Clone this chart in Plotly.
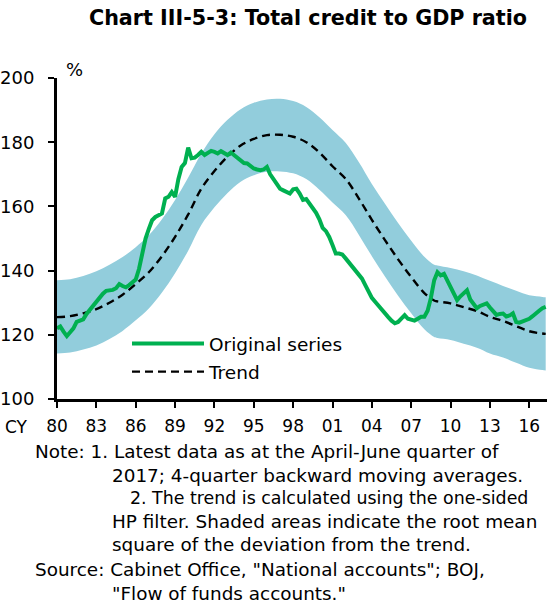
import plotly.graph_objects as go

# ---------------- data ----------------
# Original series: quarterly, 1980Q1 .. 2017Q2 (%)
original_series = [
    122.0, 122.6, 121.0, 119.6,   # 1980
    120.8, 122.0, 124.0, 124.3,   # 1981
    124.8, 126.5, 127.8, 129.0,   # 1982
    130.5, 131.8, 132.8, 133.7,   # 1983
    133.8, 134.0, 134.5, 135.8,   # 1984
    135.2, 134.8, 135.5, 136.2,   # 1985
    137.2, 140.5, 146.0, 150.0,   # 1986
    153.0, 155.7, 156.7, 157.3,   # 1987
    157.8, 162.5, 163.0, 164.5,   # 1988
    163.0, 168.5, 172.3, 173.5,   # 1989
    178.3, 175.0, 175.2, 176.0,   # 1990
    177.0, 176.0, 176.5, 177.3,   # 1991
    177.0, 176.5, 177.2, 176.5,   # 1992
    176.0, 176.8, 176.0, 175.0,   # 1993
    174.4, 173.5, 173.4, 172.5,   # 1994
    171.8, 171.5, 171.3, 171.5,   # 1995
    172.3, 170.0, 168.5, 167.0,   # 1996
    165.5, 165.0, 164.5, 164.0,   # 1997
    165.3, 165.5, 164.0, 162.0,   # 1998
    162.3, 161.0, 159.5, 158.0,   # 1999
    156.0, 153.3, 152.3, 150.5,   # 2000
    148.0, 145.3, 145.3, 145.0,   # 2001
    143.8, 142.5, 141.0, 139.6,   # 2002
    138.5, 137.5, 135.5, 133.5,   # 2003
    131.5, 130.3, 129.0, 127.8,   # 2004
    126.8, 125.5, 124.4, 123.6,   # 2005
    124.0, 125.0, 126.1, 125.0,   # 2006
    124.6, 124.4, 125.0, 125.6,   # 2007
    125.6, 127.5, 131.5, 137.0,   # 2008
    139.5, 138.5, 139.0, 137.0,   # 2009
    135.3, 133.0, 130.8, 132.0,   # 2010
    133.0, 133.9, 131.0, 129.5,   # 2011
    128.3, 129.0, 129.4, 129.8,   # 2012
    128.5, 127.5, 126.2, 126.5,   # 2013
    126.6, 125.7, 126.0, 126.7,   # 2014
    124.0, 123.8, 124.2, 124.5,   # 2015
    125.0, 125.8, 126.5, 127.5,   # 2016
    128.3, 128.7,                 # 2017
]
original_x = [1980 + 0.25 * i for i in range(len(original_series))]

# Trend and the shaded band (root mean square of the deviation), read at these dates
trend_x = [1980, 1981, 1982, 1983, 1984, 1985, 1986, 1987, 1988, 1989,
           1990, 1991, 1992, 1993, 1994, 1995, 1996, 1997, 1998, 1999,
           2000, 2001, 2002, 2003, 2004, 2005, 2006, 2007, 2008, 2008.75,
           2009, 2010, 2011, 2012, 2013, 2014, 2015, 2016, 2017, 2017.25]
trend = [125.5, 125.8, 126.7, 128.0, 130.0, 132.5, 135.8, 139.5, 144.5, 150.5,
         157.5, 165.5, 171.0, 175.5, 179.0, 181.0, 182.2, 182.3, 181.7, 180.0,
         176.8, 172.5, 168.6, 162.5, 155.8, 149.5, 143.5, 138.0, 133.0, 130.7,
         130.4, 129.8, 128.6, 127.4, 125.6, 124.3, 122.7, 121.1, 120.4, 120.3]
band_upper = [137.0, 137.3, 138.3, 139.8, 141.8, 144.2, 147.3, 151.0, 156.0, 162.0,
              169.0, 176.5, 182.5, 187.0, 190.3, 192.3, 193.3, 193.5, 192.8, 191.0,
              187.8, 183.8, 179.8, 173.8, 167.0, 160.8, 154.8, 149.3, 144.3, 141.8,
              141.6, 140.8, 139.8, 138.5, 136.8, 135.2, 133.7, 132.3, 131.8, 131.7]
band_lower = [114.2, 114.5, 115.4, 116.7, 118.7, 121.2, 124.5, 128.2, 133.2, 139.2,
              146.2, 154.2, 159.7, 164.2, 167.7, 169.7, 170.8, 170.9, 170.3, 168.5,
              165.2, 161.2, 157.3, 151.2, 144.5, 138.2, 132.2, 126.7, 121.7, 119.3,
              119.0, 118.4, 117.2, 116.0, 114.2, 112.9, 111.3, 109.7, 109.0, 108.9]

tick_years = [1980, 1983, 1986, 1989, 1992, 1995, 1998, 2001, 2004, 2007, 2010, 2013, 2016]
tick_labels = ["80", "83", "86", "89", "92", "95", "98", "01", "04", "07", "10", "13", "16"]
y_ticks = [100, 120, 140, 160, 180, 200]

title_text = "Chart III-5-3: Total credit to GDP ratio"
# (text, left x px, centre y px, font size)
note_lines = [
    ("Note: 1. Latest data as at the April-June quarter of", 33, 452, 18.4),
    ("2017; 4-quarter backward moving averages.", 110, 475, 18.4),
    ("2. The trend is calculated using the one-sided", 128, 498, 17.4),
    ("HP filter. Shaded areas indicate the root mean", 110, 521, 18.4),
    ("square of the deviation from the trend.", 110, 544, 18.4),
    ("Source: Cabinet Office, \"National accounts\"; BOJ,", 33, 569, 18.4),
    ("\"Flow of funds accounts.\"", 110, 593, 18.4),
]

# ---------------- styling ----------------
W, H = 547, 612
ML, MR, MT, MB = 57, 0, 78, 213
PW, PH = W - ML - MR, H - MT - MB
WIDE = "DejaVu Sans, Verdana, sans-serif"
GREEN = "#00B050"
BAND = "rgb(146,205,220)"


def px_to_paper(px, py):
    return (px - ML) / PW, (H - MB - py) / PH


fig = go.Figure()

fig.add_trace(go.Scatter(x=trend_x, y=band_lower, mode="lines", line=dict(width=0, shape="spline"),
                         showlegend=False, hoverinfo="skip"))
fig.add_trace(go.Scatter(x=trend_x, y=band_upper, mode="lines", line=dict(width=0, shape="spline"),
                         fill="tonexty", fillcolor=BAND, showlegend=False, hoverinfo="skip"))
fig.add_trace(go.Scatter(x=trend_x, y=trend, mode="lines", name="Trend",
                         line=dict(color="black", width=2.4, dash="8px,5px", shape="spline"),
                         legendgroup="b", legendrank=2))
fig.add_trace(go.Scatter(x=original_x, y=original_series, mode="lines", name="Original series",
                         line=dict(color=GREEN, width=4), legendgroup="a", legendrank=1))

annotations = []
for text, px, py, fs in note_lines:
    ax, ay = px_to_paper(px, py)
    annotations.append(dict(text=text, x=ax, y=ay, xref="paper", yref="paper",
                            xanchor="left", yanchor="middle", showarrow=False,
                            font=dict(size=fs, color="black", family=WIDE)))
cx, cy = px_to_paper(3, 427)
annotations.append(dict(text="CY", x=cx, y=cy, xref="paper", yref="paper", xanchor="left",
                        yanchor="middle", showarrow=False, font=dict(size=17, color="black", family=WIDE)))
pcx, pcy = px_to_paper(64, 69)
annotations.append(dict(text="%", x=pcx, y=pcy, xref="paper", yref="paper", xanchor="left",
                        yanchor="middle", showarrow=False, font=dict(size=18, color="black", family=WIDE)))

lgx, lgy = px_to_paper(127, 325)

fig.update_layout(
    width=W, height=H,
    margin=dict(l=ML, r=MR, t=MT, b=MB, pad=0),
    paper_bgcolor="white", plot_bgcolor="white",
    font=dict(family=WIDE, color="black", size=17),
    title=dict(text="<b>" + title_text + "</b>", x=308 / W, y=1 - 18 / H, xref="container",
               yref="container", xanchor="center", yanchor="middle",
               font=dict(size=20.7, family=WIDE, color="black")),
    showlegend=True,
    legend=dict(x=lgx, y=lgy, xanchor="left", yanchor="top", bgcolor="rgba(0,0,0,0)",
                font=dict(size=18.5, family=WIDE, color="black"), itemwidth=72,
                traceorder="grouped", tracegroupgap=1),
    annotations=annotations,
    xaxis=dict(range=[1980, 2017.35], tickmode="array", tickvals=tick_years, ticktext=tick_labels,
               showline=True, linecolor="black", linewidth=3, ticks="outside", ticklen=6,
               tickwidth=2, tickcolor="black", showgrid=False, zeroline=False,
               ticklabelstandoff=4,
               tickfont=dict(size=17, family=WIDE, color="black"), automargin=False),
    yaxis=dict(range=[100, 200], tickmode="array", tickvals=y_ticks,
               showline=True, linecolor="black", linewidth=3, ticks="outside", ticklen=6,
               tickwidth=2, tickcolor="black", showgrid=False, zeroline=False,
               ticklabelstandoff=10,
               tickfont=dict(size=18, family=WIDE, color="black"), automargin=False),
)

fig.write_html("out.html", config={"displayModeBar": False},
               post_script="document.body.style.margin='0';document.body.style.overflow='hidden';")
